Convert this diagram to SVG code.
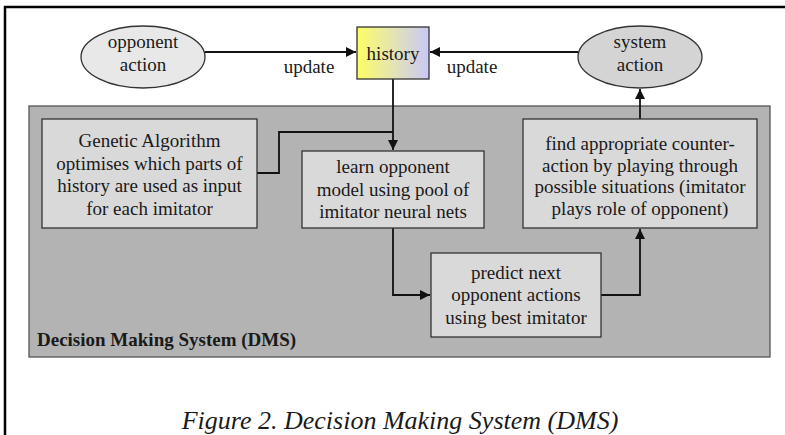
<svg xmlns="http://www.w3.org/2000/svg" width="785" height="435" viewBox="0 0 785 435">
<style>
.t{font-family:"Liberation Serif","Times New Roman",serif;font-size:19px;fill:#1a1a1a;text-anchor:middle}
.box{fill:#d9d9d9;stroke:#333;stroke-width:1.3}
.conn{fill:none;stroke:#111;stroke-width:1.8}
</style>
<defs>
<linearGradient id="hg" x1="0" y1="0" x2="1" y2="0">
<stop offset="0" stop-color="#fdfd66"/>
<stop offset="0.5" stop-color="#e4e4b4"/>
<stop offset="1" stop-color="#c8c8f6"/>
</linearGradient>
<marker id="ah" viewBox="0 0 10 10" refX="10" refY="5" markerWidth="11" markerHeight="10" markerUnits="userSpaceOnUse" orient="auto">
<path d="M0,0 L10,5 L0,10 z" fill="#111"/>
</marker>
</defs>
<rect width="785" height="435" fill="#fff"/>
<path d="M5,435 V7 H785" fill="none" stroke="#000" stroke-width="2.5"/>

<g id="dms">
<rect x="29" y="106" width="741" height="251" fill="#b3b3b3" stroke="#555" stroke-width="1.3"/>
<text x="37" y="346" style="font-family:'Liberation Serif','Times New Roman',serif;font-size:19px;font-weight:bold;fill:#1a1a1a">Decision Making System (DMS)</text>
</g>

<g id="connectors">
<line class="conn" x1="205" y1="52" x2="356" y2="52" marker-end="url(#ah)"/>
<line class="conn" x1="578" y1="52" x2="430" y2="52" marker-end="url(#ah)"/>
<path class="conn" d="M393,79 V150" marker-end="url(#ah)"/>
<path class="conn" d="M257,173 H279 V132 H393"/>
<path class="conn" d="M393,228 V295 H430" marker-end="url(#ah)"/>
<path class="conn" d="M601,295 H640 V229" marker-end="url(#ah)"/>
<path class="conn" d="M640,119 V89" marker-end="url(#ah)"/>
<text class="t" x="309" y="73">update</text>
<text class="t" x="472" y="73">update</text>
</g>

<g id="opponent-action">
<ellipse cx="143" cy="57" rx="62" ry="31" fill="#e8e8e8" stroke="#333" stroke-width="1.3"/>
<text class="t" x="143" y="48">opponent</text>
<text class="t" x="143" y="71">action</text>
</g>

<g id="history">
<rect x="357" y="27" width="72" height="52" fill="url(#hg)" stroke="#333" stroke-width="1.3"/>
<text class="t" x="393" y="60">history</text>
</g>

<g id="system-action">
<ellipse cx="640" cy="57" rx="62" ry="31" fill="#d4d4d4" stroke="#333" stroke-width="1.3"/>
<text class="t" x="640" y="48">system</text>
<text class="t" x="640" y="71">action</text>
</g>

<g id="ga">
<rect class="box" x="42" y="119" width="215" height="109"/>
<text class="t" x="149.5" y="147">Genetic Algorithm</text>
<text class="t" x="149.5" y="170">optimises which parts of</text>
<text class="t" x="149.5" y="192">history are used as input</text>
<text class="t" x="149.5" y="215">for each imitator</text>
</g>

<g id="learn">
<rect class="box" x="302" y="151" width="182" height="77"/>
<text class="t" x="393" y="173">learn opponent</text>
<text class="t" x="393" y="196">model using pool of</text>
<text class="t" x="393" y="218">imitator neural nets</text>
</g>

<g id="find">
<rect class="box" x="523" y="119" width="234" height="109"/>
<text class="t" x="640" y="150">find appropriate counter-</text>
<text class="t" x="640" y="172">action by playing through</text>
<text class="t" x="640" y="193">possible situations (imitator</text>
<text class="t" x="640" y="215">plays role of opponent)</text>
</g>

<g id="predict">
<rect class="box" x="431" y="253" width="170" height="84"/>
<text class="t" x="516" y="279">predict next</text>
<text class="t" x="516" y="301">opponent actions</text>
<text class="t" x="516" y="324">using best imitator</text>
</g>

<text x="400" y="429" style="font-family:'Liberation Serif','Times New Roman',serif;font-size:26px;font-style:italic;fill:#1a1a1a;text-anchor:middle">Figure 2. Decision Making System (DMS)</text>
</svg>
